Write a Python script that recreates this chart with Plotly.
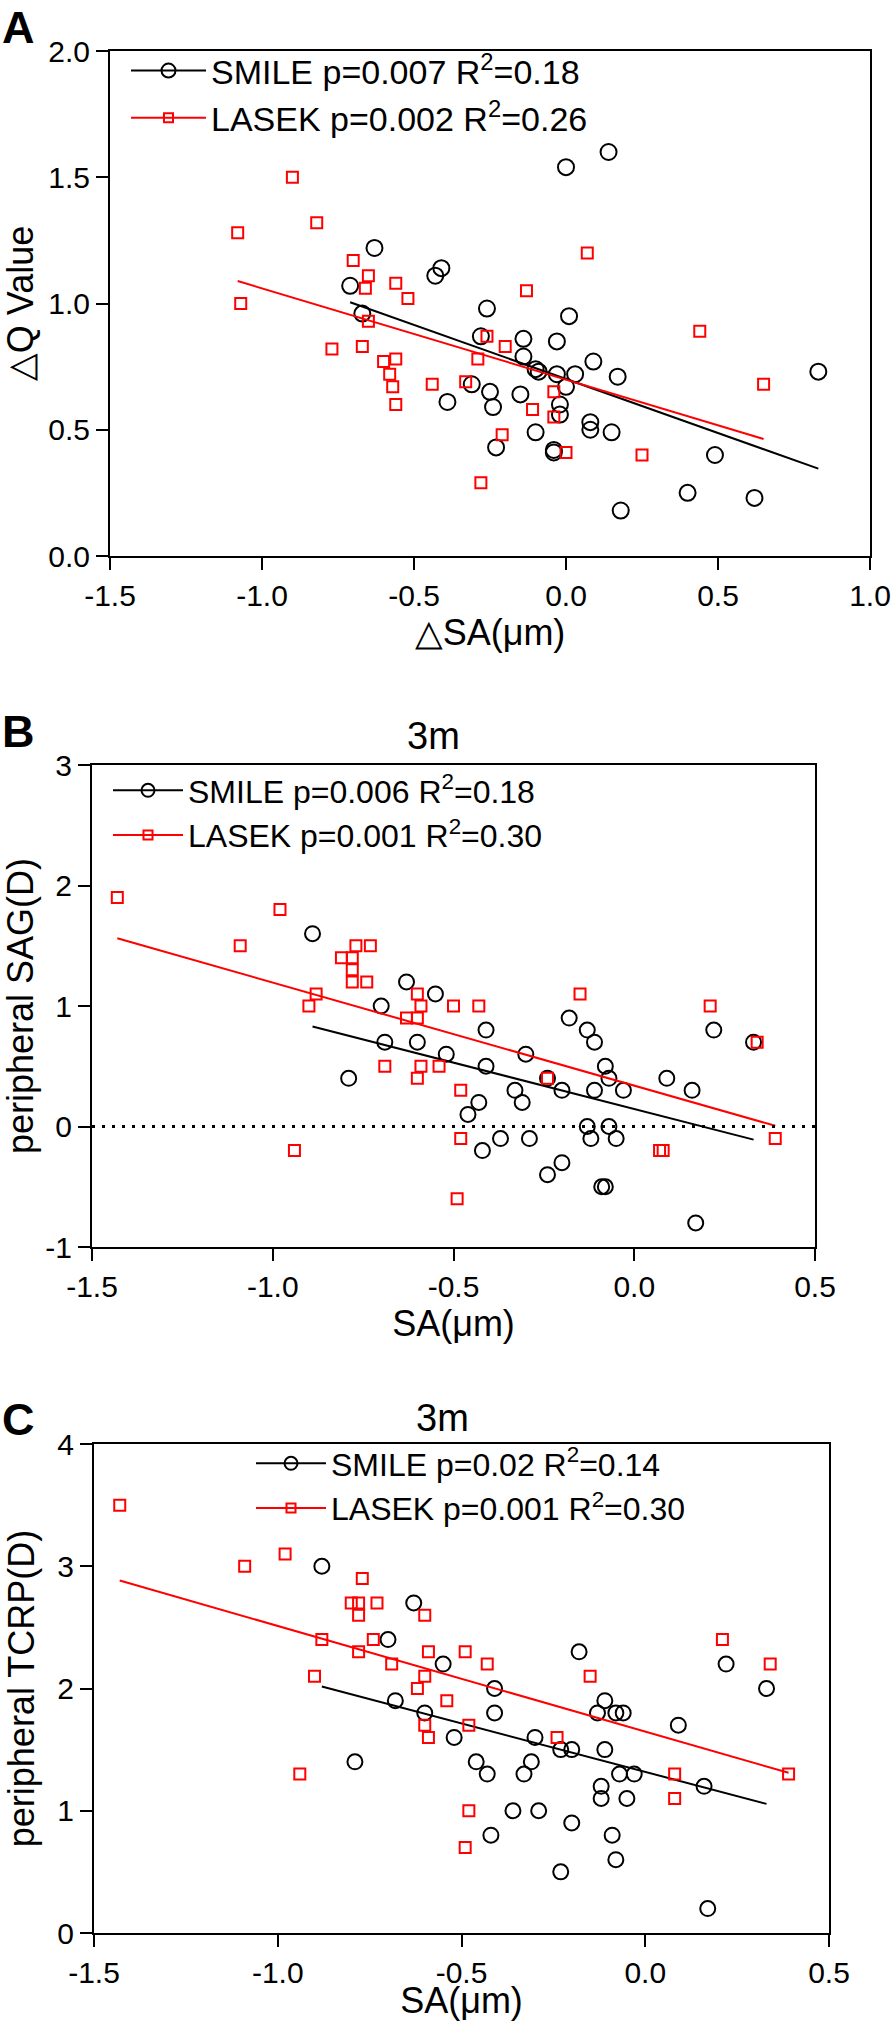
import numpy as np
import plotly.graph_objects as go

W, H = 894, 2021
FONT = "Arial, Liberation Sans, sans-serif"
RED = "#ff0000"

# ---- panel A: change in Q value vs change in SA ----
a_smile_sa = [-0.63, -0.71, -0.67, -0.41, -0.43, 0.00, 0.14, -0.26, 0.01, -0.39,
              -0.28, -0.14, -0.03, -0.14, 0.09, -0.10, -0.09, -0.03, 0.03, 0.17,
              0.83, -0.31, -0.25, -0.15, 0.00, -0.24, -0.02, -0.02, 0.08, 0.08,
              -0.10, 0.15, -0.23, -0.04, -0.04, 0.49, 0.40, 0.62, 0.18]
a_smile_dq = [1.22, 1.07, 0.96, 1.14, 1.11, 1.54, 1.60, 0.98, 0.95, 0.61,
              0.87, 0.86, 0.85, 0.79, 0.77, 0.74, 0.73, 0.72, 0.72, 0.71,
              0.73, 0.68, 0.65, 0.64, 0.67, 0.59, 0.60, 0.56, 0.53, 0.50,
              0.49, 0.49, 0.43, 0.42, 0.41, 0.40, 0.25, 0.23, 0.18]
a_lasek_sa = [-0.90, -0.82, -1.08, -1.07, -0.70, -0.65, -0.66, -0.56, -0.52, -0.65,
              0.07, -0.13, 0.44, -0.77, -0.67, -0.60, -0.56, -0.58, -0.57, -0.56,
              -0.44, -0.26, -0.20, -0.29, -0.33, 0.65, -0.04, -0.11, -0.04, -0.21,
              0.00, 0.25, -0.28]
a_lasek_dq = [1.50, 1.32, 1.28, 1.00, 1.17, 1.11, 1.06, 1.08, 1.02, 0.93,
              1.20, 1.05, 0.89, 0.82, 0.83, 0.77, 0.78, 0.72, 0.67, 0.60,
              0.68, 0.87, 0.83, 0.78, 0.69, 0.68, 0.65, 0.58, 0.55, 0.48,
              0.41, 0.40, 0.29]

# ---- panel B: peripheral SAG at 3 months vs SA ----
b_smile_sa = [-0.89, -0.63, -0.55, -0.70, -0.69, -0.60, -0.79, -0.52, -0.41, -0.41,
              -0.30, -0.18, -0.13, -0.11, -0.08, -0.07, -0.03, -0.11, -0.24, -0.20,
              0.09, 0.16, 0.22, 0.33, -0.33, -0.31, -0.43, -0.46, -0.13, -0.07,
              -0.12, -0.05, -0.37, -0.29, -0.42, -0.20, -0.24, -0.09, -0.08, 0.17]
b_smile_sag = [1.60, 1.20, 1.10, 1.00, 0.70, 0.70, 0.40, 0.60, 0.80, 0.50,
               0.60, 0.90, 0.80, 0.70, 0.50, 0.40, 0.30, 0.30, 0.40, 0.30,
               0.40, 0.30, 0.80, 0.70, 0.30, 0.20, 0.20, 0.10, 0.00, 0.00,
               -0.10, -0.10, -0.10, -0.10, -0.20, -0.30, -0.40, -0.50, -0.50, -0.80]
b_lasek_sa = [-1.43, -0.98, -1.09, -0.77, -0.73, -0.81, -0.78, -0.78, -0.78, -0.74,
              -0.88, -0.60, -0.90, -0.59, -0.15, 0.21, -0.50, -0.43, -0.63, -0.60,
              -0.69, -0.60, -0.59, -0.54, -0.94, -0.48, -0.24, 0.34, -0.48, -0.49,
              0.07, 0.08, 0.39]
b_lasek_sag = [1.90, 1.80, 1.50, 1.50, 1.50, 1.40, 1.40, 1.30, 1.20, 1.20,
               1.10, 1.10, 1.00, 1.00, 1.10, 1.00, 1.00, 1.00, 0.90, 0.90,
               0.50, 0.40, 0.50, 0.50, -0.20, 0.30, 0.40, 0.70, -0.10, -0.60,
               -0.20, -0.20, -0.10]

# ---- panel C: peripheral TCRP at 3 months vs SA ----
c_smile_sa = [-0.88, -0.63, -0.70, -0.55, -0.18, 0.22, -0.68, -0.60, -0.52, -0.79,
              -0.41, 0.33, -0.41, -0.11, -0.13, -0.08, -0.06, 0.09, -0.30, -0.23,
              -0.20, -0.11, -0.46, -0.31, -0.43, -0.33, -0.07, -0.03, -0.12, 0.16,
              -0.12, -0.05, -0.36, -0.29, -0.20, -0.42, -0.09, -0.08, -0.23, 0.17]
c_smile_tcrp = [3.00, 2.70, 2.40, 2.20, 2.30, 2.20, 1.90, 1.80, 1.60, 1.40,
                2.00, 2.00, 1.80, 1.90, 1.80, 1.80, 1.80, 1.70, 1.60, 1.50,
                1.50, 1.50, 1.40, 1.40, 1.30, 1.30, 1.30, 1.30, 1.20, 1.20,
                1.10, 1.10, 1.00, 1.00, 0.90, 0.80, 0.80, 0.60, 0.50, 0.20]
c_lasek_sa = [-1.43, -0.98, -1.09, -0.77, -0.80, -0.78, -0.73, -0.78, -0.60, -0.88,
              -0.74, -0.78, -0.59, -0.69, -0.90, -0.60, -0.49, -0.43, -0.15, 0.21,
              0.34, -0.62, -0.54, -0.60, -0.59, -0.94, -0.48, -0.24, 0.08, 0.39,
              0.08, -0.48, -0.49]
c_lasek_tcrp = [3.50, 3.10, 3.00, 2.90, 2.70, 2.70, 2.70, 2.60, 2.60, 2.40,
                2.40, 2.30, 2.30, 2.20, 2.10, 2.10, 2.30, 2.20, 2.10, 2.40,
                2.20, 2.00, 1.90, 1.70, 1.60, 1.30, 1.70, 1.60, 1.30, 1.30,
                1.10, 1.00, 0.70]

legend_a = ["SMILE p=0.007 R<sup>2</sup>=0.18", "LASEK p=0.002 R<sup>2</sup>=0.26"]
legend_b = ["SMILE p=0.006 R<sup>2</sup>=0.18", "LASEK p=0.001 R<sup>2</sup>=0.30"]
legend_c = ["SMILE p=0.02 R<sup>2</sup>=0.14", "LASEK p=0.001 R<sup>2</sup>=0.30"]

x_ticks_a = [-1.5, -1.0, -0.5, 0.0, 0.5, 1.0]
y_ticks_a = [0.0, 0.5, 1.0, 1.5, 2.0]
x_ticks_bc = [-1.5, -1.0, -0.5, 0.0, 0.5]
y_ticks_b = [-1, 0, 1, 2, 3]
y_ticks_c = [0, 1, 2, 3, 4]


def px_x(p):
    return p / W


def px_y(p):
    return 1 - p / H


def fit_line(xs, ys):
    slope, intercept = np.polyfit(xs, ys, 1)
    xr = np.array([min(xs), max(xs)])
    return xr, slope * xr + intercept


def add_group(fig, xs, ys, color, symbol, size, label, ax, legend):
    xa, ya = ("x", "y") if ax == 1 else (f"x{ax}", f"y{ax}")
    fig.add_trace(go.Scatter(
        x=xs, y=ys, mode="markers", xaxis=xa, yaxis=ya, showlegend=False,
        marker=dict(symbol=symbol, size=size, color=color, line=dict(width=2, color=color)),
    ))
    lx, ly = fit_line(xs, ys)
    fig.add_trace(go.Scatter(
        x=lx, y=ly, mode="lines", xaxis=xa, yaxis=ya, showlegend=False,
        line=dict(color=color, width=2),
    ))
    # legend-only entry (line with marker)
    fig.add_trace(go.Scatter(
        x=[None], y=[None], mode="lines+markers", xaxis=xa, yaxis=ya,
        name=label, legend=legend, line=dict(color=color, width=2),
        marker=dict(symbol=symbol, size=size - 2, color=color, line=dict(width=2, color=color)),
    ))


fig = go.Figure()
add_group(fig, a_smile_sa, a_smile_dq, "black", "circle-open", 16, legend_a[0], 1, "legend")
add_group(fig, a_lasek_sa, a_lasek_dq, RED, "square-open", 11, legend_a[1], 1, "legend")
add_group(fig, b_smile_sa, b_smile_sag, "black", "circle-open", 15, legend_b[0], 2, "legend2")
add_group(fig, b_lasek_sa, b_lasek_sag, RED, "square-open", 11, legend_b[1], 2, "legend2")
add_group(fig, c_smile_sa, c_smile_tcrp, "black", "circle-open", 15, legend_c[0], 3, "legend3")
add_group(fig, c_lasek_sa, c_lasek_tcrp, RED, "square-open", 11, legend_c[1], 3, "legend3")


def fmt(vals, digits):
    return [f"{v:.{digits}f}" for v in vals]


def axis(domain, anchor, rng, ticks, digits, title, standoff):
    return dict(
        domain=domain, anchor=anchor, range=rng, automargin=False,
        tickmode="array", tickvals=ticks, ticktext=fmt(ticks, digits),
        showline=True, linecolor="black", linewidth=2, mirror=True,
        ticks="outside", ticklen=12, tickwidth=2, tickcolor="black",
        showgrid=False, zeroline=False,
        tickfont=dict(family=FONT, size=30, color="black"),
        title=dict(text=title, font=dict(family=FONT, size=36, color="black"), standoff=standoff),
    )


a_x = [px_x(110), px_x(870)]
a_y = [px_y(556), px_y(51)]
b_x = [px_x(92), px_x(815)]
b_y = [px_y(1247), px_y(765)]
c_x = [px_x(94), px_x(829)]
c_y = [px_y(1933), px_y(1444)]

fig.update_layout(
    template="none",
    width=W, height=H, autosize=False,
    margin=dict(l=0, r=0, t=0, b=0),
    paper_bgcolor="white", plot_bgcolor="white",
    font=dict(family=FONT, color="black"),
    xaxis=axis(a_x, "y", [-1.5, 1.0], x_ticks_a, 1, "\u25b3SA(\u03bcm)", 5),
    yaxis=axis(a_y, "x", [0, 2.0], y_ticks_a, 1, "\u25b3Q Value", 10),
    xaxis2=axis(b_x, "y2", [-1.5, 0.5], x_ticks_bc, 1, "SA(\u03bcm)", 6),
    yaxis2=axis(b_y, "x2", [-1, 3], y_ticks_b, 0, "peripheral SAG(D)", 12),
    xaxis3=axis(c_x, "y3", [-1.5, 0.5], x_ticks_bc, 1, "SA(\u03bcm)", 6),
    yaxis3=axis(c_y, "x3", [0, 4], y_ticks_c, 0, "peripheral TCRP(D)", 12),
)

legend_style = dict(bgcolor="rgba(0,0,0,0)", borderwidth=0,
                    xanchor="left", yanchor="top", tracegroupgap=0)
fig.update_layout(
    legend=dict(x=px_x(126), y=px_y(42), itemwidth=75,
                font=dict(family=FONT, size=34, color="black"), **legend_style),
    legend2=dict(x=px_x(108), y=px_y(763), itemwidth=70,
                 font=dict(family=FONT, size=32, color="black"), **legend_style),
    legend3=dict(x=px_x(251), y=px_y(1436), itemwidth=70,
                 font=dict(family=FONT, size=32, color="black"), **legend_style),
)

# dotted reference line at zero in panel B
fig.add_shape(type="line", xref="x2 domain", x0=0, x1=1, yref="y2", y0=0, y1=0,
              line=dict(color="black", width=3, dash="3px,7px"))

# panel letters and time-point titles
for letter, yy in (("A", 0), ("B", 704), ("C", 1392)):
    fig.add_annotation(text=f"<b>{letter}</b>", x=px_x(18), y=px_y(yy), xref="paper", yref="paper",
                       showarrow=False, font=dict(family=FONT, size=45, color="black"),
                       xanchor="center", yanchor="top")
for xx, yy in ((433, 736), (442, 1418)):
    fig.add_annotation(text="3m", x=px_x(xx), y=px_y(yy), xref="paper", yref="paper",
                       showarrow=False, font=dict(family=FONT, size=38, color="black"),
                       xanchor="center", yanchor="middle")

# page has a default body margin; drop it so the figure fills the window exactly
fig.write_html("out.html", config={"displayModeBar": False},
               post_script="document.body.style.margin='0';")
